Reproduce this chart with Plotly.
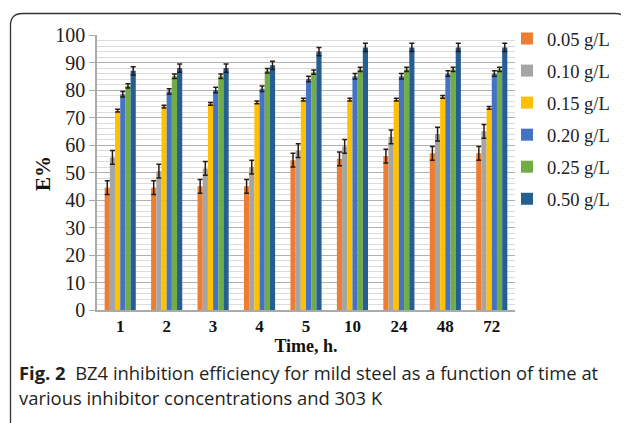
import plotly.graph_objects as go

categories = ["1", "2", "3", "4", "5", "10", "24", "48", "72"]
series_names = ["0.05 g/L", "0.10 g/L", "0.15 g/L", "0.20 g/L", "0.25 g/L", "0.50 g/L"]
v005 = [44.5, 44.5, 45, 45, 54.5, 55, 56, 57, 57]
v010 = [55.5, 50.5, 51.5, 52, 58, 59.5, 63, 64, 65]
v015 = [72.5, 74, 75, 75.5, 76.5, 76.5, 76.5, 77.5, 73.5]
v020 = [78.5, 79.5, 80, 80.5, 84, 85, 85, 86, 86]
v025 = [81.5, 85, 85, 87, 86.5, 87.5, 87.5, 87.5, 87.5]
v050 = [87, 88, 88, 89, 94, 95.5, 95.5, 95.5, 95.5]
errs = [2.5, 2.5, 0.5, 1.0, 0.8, 1.5]
colors = ["#ED7D31", "#A5A5A5", "#FFC000", "#4472C4", "#70AD47", "#255E91"]
y_ticks = [0, 10, 20, 30, 40, 50, 60, 70, 80, 90, 100]

series = [v005, v010, v015, v020, v025, v050]

# page is 629x423; the html body has an 8px margin, so the figure is shrunk by it
W0, H0, OFF = 629, 423, 8
W, H = W0 - OFF, H0 - OFF

fig = go.Figure()
for i, (name, vals, c, e) in enumerate(zip(series_names, series, colors, errs)):
    fig.add_trace(go.Bar(
        x=categories, y=vals, name=name, legendgroup=f"g{i}",
        marker=dict(color=c, line=dict(width=0)),
        error_y=dict(type="constant", value=e, color="#2a1a10", thickness=1.5, width=2.5),
    ))

# plot area on page: x 97..515, y 35..310
ml, mr, mt, mb = 97 - OFF, W0 - 515, 35 - OFF, H0 - 310
pw, ph = W - ml - mr, H - mt - mb

def px(x):
    return (x - OFF - ml) / pw

def py(y):
    return (H0 - mb - y) / ph

# rounded frame
x0, x1, y0, y1, r = px(10.5), px(627), py(13.5), py(440), 12
rx, ry = r / pw, r / ph
path = (f"M {x0},{y1} L {x0},{y0 - ry} Q {x0},{y0} {x0 + rx},{y0} "
        f"L {x1 - rx},{y0} Q {x1},{y0} {x1},{y0 - ry} L {x1},{y1}")

fig.update_layout(
    width=W, height=H,
    margin=dict(l=ml, r=mr, t=mt, b=mb, autoexpand=False),
    paper_bgcolor="white", plot_bgcolor="white",
    barmode="group", bargap=0.33, bargroupgap=0,
    font=dict(family="Liberation Serif", color="#222"),
    showlegend=True,
    legend=dict(x=px(507), y=py(20), xanchor="left", yanchor="top",
                font=dict(family="Liberation Serif", size=18.5, color="#222"),
                tracegroupgap=5, itemwidth=30, traceorder="grouped",
                bgcolor="rgba(0,0,0,0)"),
    xaxis=dict(
        type="category", showline=True, linecolor="#aaaaaa", linewidth=1.5, automargin=False,
        ticks="", tickfont=dict(family="Liberation Serif", size=17, color="#111", weight="bold"),
        title=dict(text="<b>Time, h.</b>", font=dict(family="Liberation Serif", size=18, color="#111"),
                   standoff=2),
    ),
    yaxis=dict(
        range=[0, 100], tickvals=y_ticks, showline=True, linecolor="#aaaaaa", linewidth=1.5,
        automargin=False,
        ticks="outside", ticklen=6, tickcolor="#aaaaaa",
        tickfont=dict(family="Liberation Serif", size=20, color="#222"),
        showgrid=True, gridcolor="#b0b0b0", gridwidth=1.2,
        minor=dict(dtick=2, showgrid=True, gridcolor="#dcdcdc", gridwidth=1, ticks=""),
        zeroline=False,
    ),
    shapes=[dict(type="path", path=path, xref="paper", yref="paper",
                 line=dict(color="#333", width=1.3))],
    annotations=[
        dict(text="<b>E%</b>", textangle=-90,
             x=px(43), y=py(174), xref="paper", yref="paper", xanchor="center", yanchor="middle",
             showarrow=False, font=dict(family="Liberation Serif", size=21, color="#111")),
        dict(text="<b>Fig. 2</b>  BZ4 inhibition efficiency for mild steel as a function of time at",
             x=px(17), y=py(372), xref="paper", yref="paper", xanchor="left", yanchor="middle",
             showarrow=False, font=dict(family="Open Sans", size=18.4, color="#231f20")),
        dict(text="various inhibitor concentrations and 303 K",
             x=px(17), y=py(397), xref="paper", yref="paper", xanchor="left", yanchor="middle",
             showarrow=False, font=dict(family="Open Sans", size=18.4, color="#231f20")),
    ],
)

fig.write_html("out.html")
